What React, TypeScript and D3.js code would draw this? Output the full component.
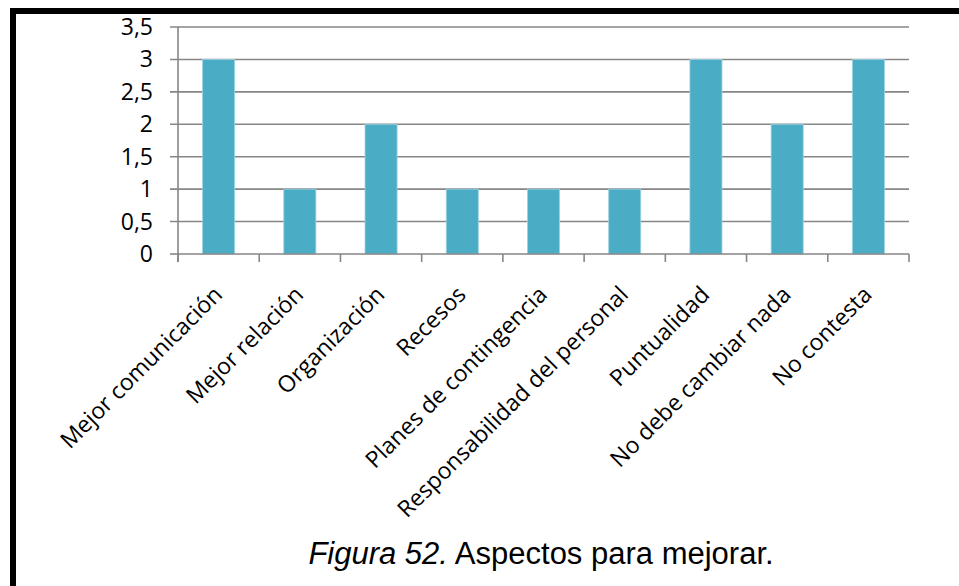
import React from "react";
import * as d3 from "d3";

const categories = [
  "Mejor comunicación",
  "Mejor relación",
  "Organización",
  "Recesos",
  "Planes de contingencia",
  "Responsabilidad del personal",
  "Puntualidad",
  "No debe cambiar nada",
  "No contesta",
];
const values = [3, 1, 2, 1, 1, 1, 3, 2, 3];
const yTicks = [0, 0.5, 1, 1.5, 2, 2.5, 3, 3.5];
const captionItalic = "Figura 52.";
const captionRest = " Aspectos para mejorar.";

const W = 959;
const H = 586;
const left = 178;
const right = 909;
const top = 27;
const bottom = 254;

export default function App() {
  const x = d3.scaleBand<string>().domain(categories).range([left, right]).paddingInner(0).paddingOuter(0);
  const y = d3.scaleLinear().domain([0, 3.5]).range([bottom, top]);
  const bw = x.bandwidth() * 0.395;
  const grid = "#868686";
  const fontTick = "'Open Sans', 'Noto Sans', sans-serif";
  const boundaries = categories.map((c) => x(c)!).concat([right]);

  return (
    <div style={{ position: "fixed", left: 0, top: 0, width: W, height: H, background: "#fff" }}>
      <svg width={W} height={H} viewBox={`0 0 ${W} ${H}`} style={{ display: "block" }}>
        <rect x={0} y={0} width={W} height={H} fill="#fff" />
        {/* border */}
        <rect x={10} y={8} width={W - 10} height={6} fill="#000" />
        <rect x={10} y={8} width={6} height={H - 8} fill="#000" />

        {/* gridlines */}
        {yTicks.filter((t) => t > 0).map((t) => (
          <line key={"g" + t} x1={left - 8} x2={right} y1={y(t)} y2={y(t)} stroke={grid} strokeWidth={1.6} />
        ))}
        {/* y axis */}
        <line x1={left} x2={left} y1={top} y2={bottom + 8} stroke={grid} strokeWidth={1.6} />
        <line x1={left - 8} x2={left} y1={bottom} y2={bottom} stroke={grid} strokeWidth={1.6} />

        {/* bars */}
        {categories.map((c, i) => {
          const cx = x(c)! + x.bandwidth() / 2;
          return (
            <rect
              key={c}
              x={cx - bw / 2}
              y={y(values[i])}
              width={bw}
              height={y(0) - y(values[i])}
              fill="#4BACC6"
              stroke="#9fd3e1"
              strokeWidth={0.8}
            />
          );
        })}

        {/* x axis */}
        <line x1={left} x2={right} y1={bottom} y2={bottom} stroke={grid} strokeWidth={1.6} />
        {boundaries.map((b, i) => (
          <line key={"t" + i} x1={b} x2={b} y1={bottom} y2={bottom + 8} stroke={grid} strokeWidth={1.6} />
        ))}

        {/* y labels */}
        {yTicks.map((t) => (
          <text
            key={"yl" + t}
            x={153}
            y={y(t) + 8}
            textAnchor="end"
            fontFamily={fontTick}
            fontSize={23}
            fill="#000"
          >
            {String(t).replace(".", ",")}
          </text>
        ))}

        {/* x labels */}
        {categories.map((c) => {
          const cx = x(c)! + x.bandwidth() / 2;
          return (
            <text
              key={"xl" + c}
              transform={`translate(${cx + 5},${bottom + 42}) rotate(-45)`}
              textAnchor="end"
              fontFamily={fontTick}
              fontSize={23}
              fill="#000"
            >
              {c}
            </text>
          );
        })}

        {/* caption */}
        <text x={541} y={564} textAnchor="middle" fontFamily="'Liberation Sans', Arial, sans-serif" fontSize={31} fill="#000">
          <tspan fontStyle="italic">{captionItalic}</tspan>
          <tspan>{captionRest}</tspan>
        </text>
      </svg>
    </div>
  );
}
